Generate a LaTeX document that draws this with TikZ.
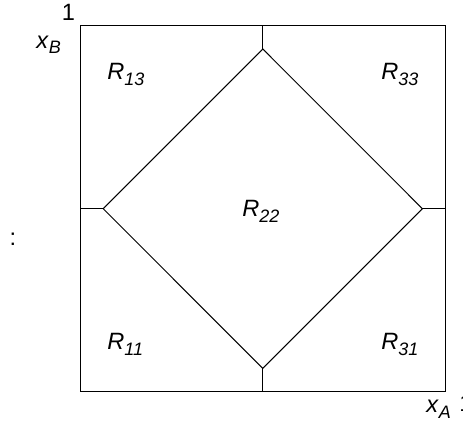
\documentclass[tikz,border=0pt]{standalone}
\usepackage{fontspec}
\setmainfont{Liberation Sans}
\usetikzlibrary{calc}
\newcommand{\subit}[1]{\raisebox{-2.6pt}{\fontsize{9}{10.8}\selectfont\textit{#1}}}
\newcommand{\reg}[1]{\textit{R}\subit{#1}}

\begin{document}
\begin{tikzpicture}[
  x=0.5pt, y=-0.5pt,
  font=\fontsize{11.8}{14}\selectfont,
  frame/.style={draw=black, line width=0.5pt},
  edge/.style={draw=black, line width=0.5pt, line join=miter},
  lbl/.style={inner sep=0pt, anchor=base west}
]

\useasboundingbox (0,0) rectangle (463,428);
\clip (0,0) rectangle (463,428);

% unit square and the four corners of the middle region
\coordinate (sw) at (80.5,391.5);
\coordinate (ne) at (445.5,25.5);
\coordinate (top) at (262.8,25.5);
\coordinate (bot) at (262.8,391.5);
\coordinate (lft) at (80.5,208.7);
\coordinate (rgt) at (445.5,208.7);
\coordinate (dtop) at (262.8,49.0);
\coordinate (dbot) at (262.8,368.4);
\coordinate (dlft) at (103.2,208.7);
\coordinate (drgt) at (422.4,208.7);

\draw[frame] (sw) rectangle (ne);
\draw[edge] (dtop) -- (drgt) -- (dbot) -- (dlft) -- cycle;
\draw[edge] (top) -- (dtop);
\draw[edge] (bot) -- (dbot);
\draw[edge] (lft) -- (dlft);
\draw[edge] (rgt) -- (drgt);

% region labels
\node[lbl] (r13) at (107,80) {\reg{13}};
\node[lbl] (r33) at (381,80) {\reg{33}};
\node[lbl] (r22) at (242,217) {\reg{22}};
\node[lbl] (r11) at (107,350) {\reg{11}};
\node[lbl] (r31) at (381,350) {\reg{31}};

% axes
\node[inner sep=0pt, anchor=base] (one) at (68.5,20) {1};
\node[lbl] (xb) at (36,48) {\textit{x}\subit{B}};
\node[inner sep=0pt, anchor=base] (dots) at (13,246) {:};
\node[lbl] (xa) at (426,413) {\textit{x}\subit{A}};
\node[lbl] (onea) at (459,412) {1};

\end{tikzpicture}
\end{document}
